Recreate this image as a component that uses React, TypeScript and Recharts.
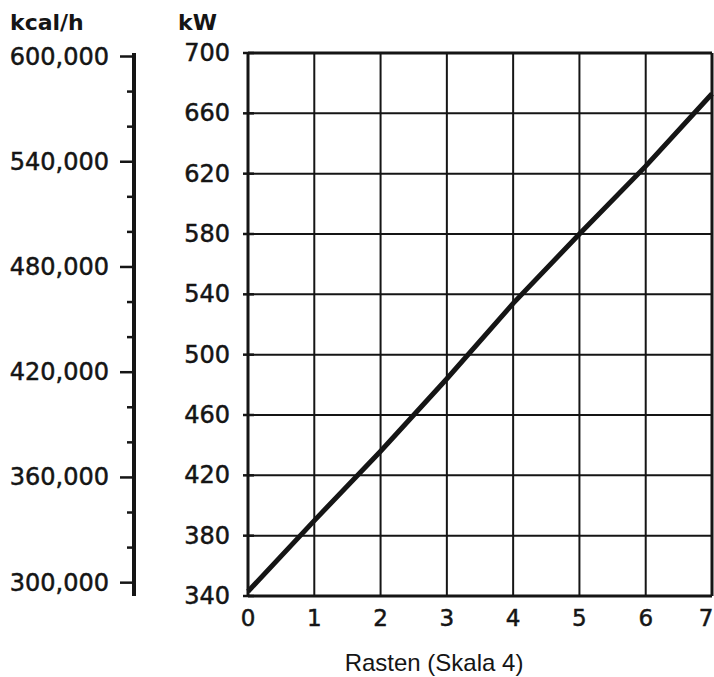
import React from 'react';
import {
  LineChart,
  Line,
  XAxis,
  YAxis,
  CartesianGrid,
  ReferenceLine,
  Label,
} from 'recharts';

// Rasten (Skala 4) vs. output in kW, with kcal/h companion scale
const rasten = [0, 1, 2, 3, 4, 5, 6, 7];
const kwValues = [343, 390, 436, 484, 534, 580, 625, 673];
const kwTicks = [340, 380, 420, 460, 500, 540, 580, 620, 660, 700];
const kcalTicks = [
  300000, 320000, 340000, 360000, 380000, 400000, 420000, 440000, 460000, 480000,
  500000, 520000, 540000, 560000, 580000, 600000,
];
const kcalLabelled = [300000, 360000, 420000, 480000, 540000, 600000];

const KCAL_PER_KW = 860;
const INK = '#151515';
const NUM_FONT = '"DejaVu Sans", sans-serif';

const data = rasten.map((r, i) => ({ r, kw: kwValues[i] }));

const KcalTick = (props: any) => {
  const { x, y, payload } = props;
  const axisX = x + 14 + 11;
  const major = kcalLabelled.includes(payload.value);
  return (
    <g>
      <line
        x1={major ? axisX - 14 : axisX - 7}
        x2={axisX}
        y1={y}
        y2={y}
        stroke={INK}
        strokeWidth={2.5}
      />
      {major && (
        <text
          x={x}
          y={y + 8}
          textAnchor="end"
          fontFamily={NUM_FONT}
          fontSize={24}
          fill={INK}
          stroke={INK}
          strokeWidth={0.5}
        >
          {payload.value.toLocaleString('en-US')}
        </text>
      )}
    </g>
  );
};

const KwTick = (props: any) => {
  const { x, y, payload } = props;
  const axisX = x + 5 + 13;
  return (
    <g>
      <line x1={axisX - 5} x2={axisX + 6} y1={y} y2={y} stroke={INK} strokeWidth={2.5} />
      <text
        x={x}
        y={y + 8}
        textAnchor="end"
        fontFamily={NUM_FONT}
        fontSize={24}
        fill={INK}
        stroke={INK}
        strokeWidth={0.5}
      >
        {payload.value}
      </text>
    </g>
  );
};

const RastTick = (props: any) => {
  const { x, y, payload } = props;
  const shift = payload.value === 7 ? -6 : 0;
  return (
    <text
      x={x + shift}
      y={y + 18}
      textAnchor="middle"
      fontFamily={NUM_FONT}
      fontSize={23}
      fill={INK}
      stroke={INK}
      strokeWidth={0.5}
    >
      {payload.value}
    </text>
  );
};

export default function App() {
  return (
    <div style={{ position: 'absolute', left: 0, top: 0, width: 714, height: 677, background: '#fff' }}>
      <div
        style={{
          position: 'absolute',
          left: 10,
          top: 10,
          fontFamily: NUM_FONT,
          fontWeight: 'bold',
          fontSize: 22,
          color: INK,
        }}
      >
        kcal/h
      </div>
      <div
        style={{
          position: 'absolute',
          left: 178,
          top: 10,
          fontFamily: NUM_FONT,
          fontWeight: 'bold',
          fontSize: 22,
          color: INK,
        }}
      >
        kW
      </div>
      <LineChart
        width={714}
        height={677}
        data={data}
        margin={{ top: 53, right: 2, bottom: 0, left: 0 }}
      >
        <CartesianGrid
          yAxisId="kw"
          stroke={INK}
          strokeWidth={2}
          horizontalValues={kwTicks}
          verticalValues={rasten}
        />
        <XAxis
          dataKey="r"
          type="number"
          domain={[0, 7]}
          ticks={rasten}
          interval={0}
          height={81}
          axisLine={{ stroke: INK, strokeWidth: 3 }}
          tickLine={false}
          tickSize={6}
          tickMargin={6}
          tick={RastTick}
        >
          <Label
            value="Rasten (Skala 4)"
            position="insideBottom"
            offset={6}
            dx={-46}
            style={{ fontFamily: '"Liberation Sans", Arial, sans-serif', fontSize: 24, fill: INK }}
          />
        </XAxis>
        <YAxis
          yAxisId="kw"
          type="number"
          domain={[340, 700]}
          ticks={kwTicks}
          interval={0}
          width={114}
          axisLine={{ stroke: INK, strokeWidth: 3 }}
          tickLine={false}
          tickSize={5}
          tickMargin={13}
          tick={KwTick}
        />
        <YAxis
          yAxisId="zkcal"
          type="number"
          domain={[340 * KCAL_PER_KW, 700 * KCAL_PER_KW]}
          allowDataOverflow
          ticks={kcalTicks}
          interval={0}
          width={134}
          axisLine={{ stroke: INK, strokeWidth: 4 }}
          tickLine={false}
          tickSize={14}
          tickMargin={11}
          tick={KcalTick}
        />
        <ReferenceLine yAxisId="kw" y={700} stroke={INK} strokeWidth={3} />
        <ReferenceLine yAxisId="kw" x={7} stroke={INK} strokeWidth={3} />
        <Line
          yAxisId="kw"
          dataKey="kw"
          type="linear"
          stroke={INK}
          strokeWidth={5}
          dot={false}
          isAnimationActive={false}
        />
      </LineChart>
    </div>
  );
}
